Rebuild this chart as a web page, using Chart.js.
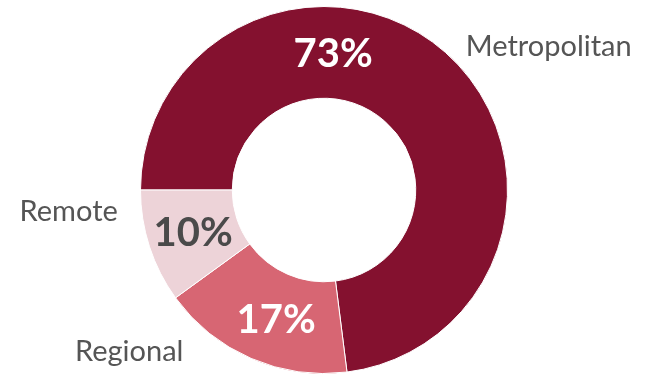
<!DOCTYPE html>
<html>
<head>
<meta charset="utf-8">
<script src="https://cdn.jsdelivr.net/npm/chart.js@4/dist/chart.umd.min.js"></script>
<style>
  html, body { margin: 0; padding: 0; background: #fff; }
  #wrap { width: 654px; height: 375px; position: relative; }
</style>
</head>
<body>
<div id="wrap"><canvas id="donut"></canvas></div>
<script>
// data
const categories = ['Metropolitan', 'Regional', 'Remote'];
const shares = [73, 17, 10];
const colors = ['#84112f', '#d76673', '#edd3d8'];
const pctColors = ['#ffffff', '#ffffff', '#4a4a4a'];

// where the % text sits inside each slice (fraction along the slice, 0.5 = middle)
const pctAlong = [0.357, 0.45, 0.5];

// outside name labels: angle (deg from top, clockwise), distance factor, alignment
const nameSpots = [
  { ang: 44.6, dist: 1.10, align: 'left' },
  { ang: 230.3, dist: 1.38, align: 'center' },
  { ang: 264, dist: 1.13, align: 'right' }
];

const labelPlugin = {
  id: 'sliceLabels',
  afterDatasetsDraw(chart) {
    const ctx = chart.ctx;
    const meta = chart.getDatasetMeta(0);
    ctx.save();
    ctx.textBaseline = 'middle';
    meta.data.forEach((arc, i) => {
      const p = arc.getProps(['x', 'y', 'startAngle', 'endAngle', 'innerRadius', 'outerRadius'], true);
      // percentage
      const a = p.startAngle + (p.endAngle - p.startAngle) * pctAlong[i];
      const r = (p.innerRadius + p.outerRadius) / 2;
      ctx.font = 'bold 40px Lato';
      ctx.fillStyle = pctColors[i];
      ctx.textAlign = 'center';
      ctx.fillText(shares[i] + '%', p.x + Math.cos(a) * r, p.y + Math.sin(a) * r + 1);
      // category name
      const s = nameSpots[i];
      const na = (s.ang - 90) * Math.PI / 180;
      const nr = p.outerRadius * s.dist;
      ctx.font = '29px Lato';
      ctx.fillStyle = '#555555';
      ctx.textAlign = s.align;
      ctx.fillText(categories[i], p.x + Math.cos(na) * nr, p.y + Math.sin(na) * nr);
    });
    ctx.restore();
  }
};

new Chart(document.getElementById('donut'), {
  type: 'doughnut',
  data: {
    labels: categories,
    datasets: [{
      data: shares,
      backgroundColor: colors,
      borderColor: '#ffffff',
      borderWidth: 1
    }]
  },
  options: {
    responsive: true,
    maintainAspectRatio: false,
    animation: false,
    rotation: -90,
    cutout: '50%',
    layout: { padding: { left: 140, right: 146, top: 6, bottom: 1 } },
    plugins: {
      legend: { display: false },
      tooltip: { enabled: false }
    }
  },
  plugins: [labelPlugin]
});
</script>
</body>
</html>
